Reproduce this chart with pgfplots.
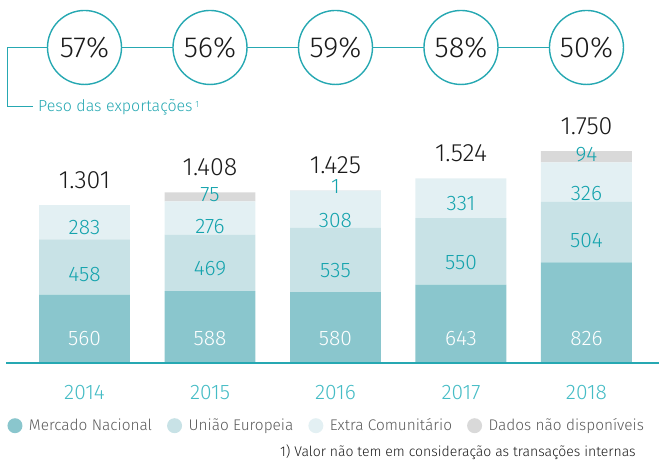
\documentclass[border=0pt]{standalone}
\usepackage{pgfplots}
\pgfplotsset{compat=1.18}
\usepackage{fontspec}
\setmainfont{Fira Sans Light}
\definecolor{tline}{RGB}{38,168,178}
\definecolor{tlab}{RGB}{20,163,173}
\definecolor{tyear}{RGB}{69,188,197}
\definecolor{mn}{RGB}{138,198,205}
\definecolor{ue}{RGB}{200,226,230}
\definecolor{ec}{RGB}{227,240,243}
\definecolor{nd}{RGB}{217,217,217}
\definecolor{lgray}{RGB}{90,90,90}
\definecolor{tot}{RGB}{26,26,26}
\pgfplotsset{
  base/.style={
    at={(5bp,100bp)}, anchor=south west,
    scale only axis, width=654bp, height=362bp,
    xmin=-0.6335, xmax=4.578, ymin=0, ymax=3004,
    clip=false,
  },
  seglab/.style={draw=none, mark=none, nodes near coords, point meta=explicit symbolic,
    every node near coord/.append style={anchor=center, inner sep=0pt, text=#1,
      font=\fontsize{21bp}{24bp}\selectfont}},
}
\begin{document}
\begin{tikzpicture}[x=1bp,y=1bp]
\useasboundingbox (0,0) rectangle (659,462);
% bars
\begin{axis}[base,
  ybar stacked, bar width=0.725,
  axis line style={draw=none}, tick style={draw=none},
  ytick=\empty,
  xtick={0,1,2,3,4}, xticklabels={2014,2015,2016,2017,2018},
  xticklabel style={anchor=center, yshift=-30.5bp, text=tyear,
    font=\fontsize{21bp}{24bp}\selectfont},
  legend image code/.code={\fill[#1] (0bp,0bp) circle (7.5bp);},
  legend style={at={(0.0038,-0.176)}, anchor=west, draw=none, fill=none,
    inner sep=0pt, outer sep=0pt, legend columns=4,
    font=\fontsize{15.4bp}{18bp}\selectfont, text=lgray,
    nodes={inner sep=0pt},
    /tikz/every odd column/.append style={column sep=6.5bp},
    /tikz/every even column/.append style={column sep=15bp}},
]
\addplot[fill=mn, draw=none] coordinates {(0,560) (1,588) (2,580) (3,643) (4,826)};
\addplot[fill=ue, draw=none] coordinates {(0,458) (1,469) (2,535) (3,550) (4,504)};
\addplot[fill=ec, draw=none] coordinates {(0,283) (1,276) (2,308) (3,331) (4,326)};
\addplot[fill=nd, draw=none] coordinates {(0,0) (1,75) (2,1) (3,0) (4,94)};
\legend{Mercado Nacional, União Europeia, Extra Comunitário, Dados não disponíveis}
\end{axis}
% overlay
\begin{axis}[base, hide axis]
\addplot[tline, line width=2bp] coordinates {(-0.625,-8) (4.7,-8)};
\addplot[tline, line width=1.4bp] coordinates {(-0.41,2120) (-0.615,2120) (-0.615,2610) (4,2610)};
\addplot[only marks, mark=*, mark size=37bp,
  mark options={draw=tline, fill=white, line width=1.4bp},
  nodes near coords, point meta=explicit symbolic,
  every node near coord/.append style={anchor=center, text=tot,
    font=\fontsize{29bp}{32bp}\selectfont}]
  coordinates {(0,2610)[57\%] (1,2610)[56\%] (2,2610)[59\%] (3,2610)[58\%] (4,2610)[50\%]};
% totals
\addplot[draw=none, mark=none, nodes near coords, point meta=explicit symbolic,
  every node near coord/.append style={anchor=base, inner sep=0pt, yshift=16.5bp, text=tot,
    font=\fontsize{25bp}{28bp}\selectfont}]
  coordinates {(0,1301)[1.301] (1,1408)[1.408] (2,1425)[1.425] (3,1524)[1.524] (4,1750)[1.750]};
% segment labels
\addplot[seglab=white] coordinates {(0,191)[560] (1,191)[588] (2,191)[580] (3,191)[643] (4,191)[826]};
\addplot[seglab=tlab] coordinates {(0,730)[458] (1,772)[469] (2,755)[535] (3,826)[550] (4,1008)[504]};
\addplot[seglab=tlab] coordinates {(0,1120)[283] (1,1124)[276] (2,1170)[308] (3,1315)[331] (4,1402)[326]};
\addplot[seglab=tlab] coordinates {(1,1386)[75] (2,1452)[1] (4,1722)[94]};
\node[anchor=base west, inner sep=0pt, text=tline, font=\fontsize{16bp}{18bp}\selectfont]
  at (axis cs:-0.3705,2077) {Peso das exportações\,\raisebox{0.55ex}{\fontsize{9bp}{9bp}\selectfont 1}};
\end{axis}
\node[anchor=base west, inner sep=0pt, text=tot, font=\fontsize{14bp}{16bp}\selectfont]
  at (280,5) {1) Valor não tem em consideração as transações internas};
\end{tikzpicture}
\end{document}
